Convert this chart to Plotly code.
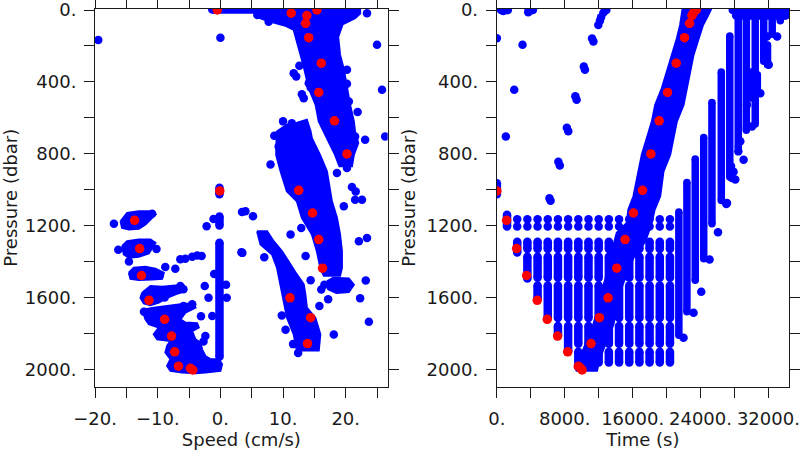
import plotly.graph_objects as go

BLUE = "#0000ff"
RED = "#ff0000"
INK = "#1a1a1a"

# ---------------- shared red subset (same samples in both panels) ----------------
red_pressure = [1007, 1171, 1328, 1478, 1616, 1722, 1815, 1903, 1983, 1995, 2004, 1857, 1713, 1602,
                1437, 1278, 1130, 1004, 801, 617, 459, 296, 154, 74, 31, 18, 0, 0]
red_speed = [-0.1, -13.7, -12.9, -12.6, -11.4, -8.9, -7.8, -7.3, -6.7, -4.8, -4.4, 13.9, 14.4, 11.1,
             16.3, 15.7, 14.7, 12.5, 20.2, 18.2, 15.7, 16.1, 14.1, 13.6, 13.8, 11.3, 15.4, -0.5]
red_time = [0, 1150, 2330, 3510, 4760, 5940, 7160, 8350, 9600, 9900, 10050, 11100, 12080, 13110,
            14130, 15110, 16100, 17160, 18150, 19130, 20110, 21140, 22120, 22710, 22990, 23150, 23380, 23500]

# ---------------- left panel: dense blue clouds (outline of the sample clouds) ----------------
cloud_upper_speed = [5.5, 5.5, 7.5, 10.5, 11.7, 13.3, 14.1, 15.2, 15.7, 17.0, 18.3, 19.0,
                     21.0, 21.3, 22.0, 21.5, 21.3, 20.7, 20.2, 19.7, 19.1, 18.8, 19.5, 21.5, 22.3, 22.3]
cloud_upper_p = [-10, 35, 60, 90, 111, 315, 435, 528, 620, 713, 806, 870,
                 870, 806, 740, 680, 620, 528, 435, 330, 250, 150, 80, 45, 20, -10]

cloud_mid_speed = [10.5, 9.0, 8.9, 9.6, 10.6, 12.2, 13.0, 14.6, 15.4, 15.95, 16.5,
                   19.1, 19.4, 19.4, 19.1, 18.6, 17.8, 17.3, 17.0, 15.9, 14.6, 14.4, 13.8, 12.0]
cloud_mid_p = [640, 676, 806, 898, 1009, 1065, 1157, 1250, 1343, 1435, 1480,
               1480, 1435, 1343, 1250, 1157, 1065, 972, 898, 806, 713, 676, 611, 630]

cloud_branch_speed = [5.85, 6.4, 8.24, 9.04, 9.57, 10.1, 10.63, 11.7, 12.2, 15.7, 15.95, 15.15,
                      13.8, 13.56, 13.3, 12.2, 11.2, 9.84, 8.5, 7.45]
cloud_branch_p = [1231, 1305, 1361, 1435, 1528, 1620, 1713, 1806, 1895, 1895, 1806, 1713,
                  1657, 1583, 1528, 1472, 1416, 1343, 1287, 1231]

cloud_east_speed = [17.0, 18.0, 20.5, 21.3, 20.5, 18.5, 17.2]
cloud_east_p = [1510, 1490, 1495, 1530, 1570, 1575, 1555]

cloud_c1_speed = [-15.95, -14.89, -13.03, -11.43, -10.37, -11.17, -11.97, -13.03, -14.62, -15.69]
cloud_c1_p = [1176, 1129, 1120, 1120, 1139, 1166, 1194, 1218, 1222, 1213]

cloud_c2_speed = [-15.69, -14.89, -13.03, -11.17, -10.37, -10.9, -11.43, -13.03, -14.62, -15.42]
cloud_c2_p = [1314, 1287, 1277, 1277, 1296, 1324, 1355, 1374, 1379, 1361]

cloud_c3_speed = [-14.62, -13.83, -11.97, -10.37, -9.04, -9.31, -10.9, -13.03, -14.36]
cloud_c3_p = [1463, 1435, 1429, 1440, 1463, 1496, 1500, 1503, 1496]

cloud_c4_speed = [-12.5, -11.17, -9.31, -7.18, -5.85, -5.59, -7.18, -8.51, -9.84, -11.17, -12.23, -12.76]
cloud_c4_p = [1574, 1537, 1541, 1533, 1533, 1565, 1583, 1602, 1629, 1644, 1633, 1602]

cloud_low_speed = [-11.97, -10.64, -8.51, -6.65, -4.52, -3.99, -5.59, -6.38, -5.59, -3.73, -3.46, -4.52,
                   -3.99, -3.19, -2.93, -2.40, -1.6, -0.27, 0.26, 0.0, -2.40, -3.99, -6.12, -7.98,
                   -8.51, -7.98, -8.78, -8.51, -7.98, -10.1, -10.64, -9.84, -11.43, -11.97, -12.23]
cloud_low_p = [1666, 1657, 1648, 1639, 1633, 1657, 1685, 1722, 1740, 1744, 1768, 1787,
               1833, 1851, 1889, 1926, 1944, 1944, 1972, 2009, 2018, 2022, 2018, 2009,
               1981, 1944, 1907, 1870, 1842, 1833, 1805, 1768, 1749, 1722, 1694]

# vertical runs of samples near zero speed
speed_run_x = [-0.15, -0.15, -0.15]
speed_run_top = [990, 1150, 1295]
speed_run_bot = [1025, 1200, 1930]
# surface run
speed_row_p = [-3]
speed_row_x0 = [-1.3]
speed_row_x1 = [7.0]

# isolated blue samples, left panel
speed_dots_x = [-19.5, 0.0, 25.0, 25.8, 26.3, 23.4, 5.9, 7.7, 12.6, 11.7, 12.1, 13.0, 13.3, 14.1, 14.4,
                20.2, 20.2, 20.5, 21.9, 10.0, 11.4, 21.5, 23.1, 18.6, 20.2, 20.2, 4.0, 5.2, 3.5, 7.0,
                11.2, 13.6, 12.9, 14.4, 16.1, 15.8, 18.1, 23.2, 23.7, 21.5, 22.6, 19.7, 22.1, 23.4,
                -1.1, -2.2, 3.45, 3.35, -2.5, -1.9, 1.0, -1.3, -2.4, -8.8, -7.2, -6.4, -5.6, -4.5,
                -3.7, -3.0, -7.4, -6.4, -5.9, -5.9, -4.5, -17.0, -10.9,
                8.6, 9.3, 8.0, 16.6, 17.2, 9.8, 10.4, 11.6, 12.4, 17.4, 16.9, 21.0, 21.6, 22.3,
                -16.3, -10.2, -9.7, -8.9, -3.1, -2.7, -1.0, 0.9, -14.6, -12.2]
speed_dots_p = [167, 154, 194, 444, 704, 18, 28, 65, 311, 352, 370, 469, 491, 408, 431,
                333, 411, 509, 568, 620, 630, 704, 722, 907, 824, 880, 1120, 1148, 1352, 1376,
                1250, 1370, 1213, 1505, 1556, 1648, 1806, 1506, 1735, 1056, 1056, 1093, 1287, 1269,
                1163, 1204, 1124, 1348, 1537, 1602, 1602, 1704, 1815, 1430, 1440, 1388, 1385, 1374,
                1366, 1370, 1555, 1537, 1555, 1648, 1638, 1190, 1134,
                700, 760, 860, 1530, 1610, 1700, 1780, 1860, 1910, 1195, 1250, 985, 1010, 1605,
                1335, 1330, 1480, 1600, 1705, 1845, 1470, 1530, 1400, 1680]

# ---------------- right panel ----------------
# ascending band around the red samples (outline)
band_time = [21900, 21600, 21220, 20630, 20040, 19450, 18660, 18270, 17680, 17090, 16690, 16100,
             15500, 15310, 14130, 13340, 12950, 12360, 11960, 11370, 10590, 9800, 9200, 9400,
             11800, 12160, 12950, 13740, 14130, 14520, 15310, 16100, 17500, 18200, 18600, 19250,
             19640, 20430, 20820, 21220, 22000, 22400, 22790, 23180, 23800, 24300, 24900, 25300]
band_p = [-10, 83, 157, 250, 343, 435, 528, 620, 713, 805, 898, 1037,
          1111, 1185, 1240, 1380, 1472, 1565, 1657, 1750, 1843, 1935, 1990, 2008,
          2008, 1935, 1843, 1750, 1657, 1565, 1472, 1380, 1287, 1194, 1111, 1037,
          898, 805, 713, 620, 528, 435, 343, 250, 157, 83, 30, -10]

# regular sampling grid: column times and the paired rows near 1200 dbar
grid_time = [1200, 2400, 3600, 4800, 6000, 7200, 8400, 9600, 10800, 12000, 13200, 14400,
             15600, 16800, 18000, 19200, 20400]
grid_pair_p = [1165, 1205]
grid_low_top = [None, 1290, 1290, 1290, 1290, 1290, 1290, 1290, 1290, 1290, 1290, 1290,
                1290, 1290, 1290, 1290, 1290]
grid_low_bot = [None, 1350, 1495, 1605, 1712, 1810, 1900, 1985, 1985, 1962, 1962, 1962,
                1962, 1962, 1962, 1962, 1962]
gap_levels = [1352, 1512, 1737, 1880]

# other vertical runs (time, top, bottom)
time_run_t = [0, 1200]
time_run_top = [965, 1140]
time_run_bot = [1025, 1205]
# rising staircase of runs after the ascent
stair_t = [21450, 22400, 23380, 24380, 25350, 26450, 27450, 28450, 29400, 30450,
           31450, 32450, 33400, 34100, 30000, 30700, 31900]
stair_top = [1125, 960, 830, 710, 515, 345, 145, 0, 0, 0, 0, 0, 0, 0, 345, 360, 195]
stair_bot = [1810, 1680, 1505, 1385, 1190, 1060, 930, 765, 670, 635, 285, 135, 60, 25, 490, 455, 305]

# horizontal runs at the surface (pressure, start, end)
time_row_p = [0, 0, 0, 30]
time_row_t0 = [500, 3750, 27800, 28200]
time_row_t1 = [1300, 4250, 34400, 34100]

# isolated blue samples, right panel
time_dots_t = [750, 3700, 0, 3030, 2050, 1060, 7250, 7420, 8250, 8420, 9250, 9400, 10250, 10380,
               11220, 11380, 11960, 12150, 12280, 12550, 12900, 6200, 6330, 22000, 23180, 24090,
               25070, 26060, 27040, 27600, 27900, 28100, 28690, 29080, 29480, 29480, 31050, 32040,
               33030, 31840, 30070, 28460, 27710, 27120]
time_dots_p = [5, 13, 157, 194, 444, 704, 845, 865, 655, 675, 480, 500, 315, 333,
               158, 175, 83, 60, 40, 15, 0, 1048, 1062, 1824, 1685, 1569,
               1389, 1237, 1080, 870, 900, 944, 731, 833, 648, 528, 463, 305,
               148, 148, 648, 787, 935, 1074]

# ---------------- axes ----------------
pressure_ticks = [0, 400, 800, 1200, 1600, 2000]
pressure_labels = ["0.", "400.", "800.", "1200.", "1600.", "2000."]
pressure_minor = [200, 600, 1000, 1400, 1800]
speed_ticks = [-20, -10, 0, 10, 20]
speed_labels = ["\u221220.", "\u221210.", "0.", "10.", "20."]
speed_minor = [-15, -5, 5, 15, 25]
time_ticks = [0, 8000, 16000, 24000, 32000]
time_labels = ["0.", "8000.", "16000.", "24000.", "32000."]
time_minor = [4000, 12000, 20000, 28000]
pressure_range = [2097, -7]
speed_range = [-20.02, 26.7]
time_range = [-15, 34430]

DOT = 8.5
RED_DOT = 9.5


def vertical_runs(xs, tops, bots, gaps=(), half=22):
    X, Y = [], []
    for x, a, b in zip(xs, tops, bots):
        if a is None:
            continue
        pieces = []
        start = a
        for g in gaps:
            if start + 30 < g < b - 30:
                pieces.append((start, g - half))
                start = g + half
        pieces.append((start, b))
        for s, e in pieces:
            X += [x, x, None]
            Y += [s, e, None]
    return X, Y


def horizontal_runs(ps, x0s, x1s):
    X, Y = [], []
    for p, a, b in zip(ps, x0s, x1s):
        X += [a, b, None]
        Y += [p, p, None]
    return X, Y


def run_trace(X, Y, xa, ya, w=DOT):
    return go.Scatter(x=X, y=Y, xaxis=xa, yaxis=ya, mode="lines+markers", connectgaps=False,
                      line=dict(color=BLUE, width=w), marker=dict(color=BLUE, size=w),
                      hoverinfo="skip", showlegend=False)


def cloud_trace(xs, ps, xa, ya):
    return go.Scatter(x=list(xs) + [xs[0]], y=list(ps) + [ps[0]], xaxis=xa, yaxis=ya,
                      mode="lines", fill="toself", fillcolor=BLUE,
                      line=dict(color=BLUE, width=2), hoverinfo="skip", showlegend=False)


def dot_trace(xs, ps, color, xa, ya, size=DOT):
    return go.Scatter(x=xs, y=ps, xaxis=xa, yaxis=ya, mode="markers",
                      marker=dict(color=color, size=size, line=dict(width=0)),
                      hoverinfo="skip", showlegend=False)


fig = go.Figure()

# left panel
for xs, ps in [(cloud_upper_speed, cloud_upper_p), (cloud_mid_speed, cloud_mid_p),
               (cloud_branch_speed, cloud_branch_p), (cloud_east_speed, cloud_east_p),
               (cloud_c1_speed, cloud_c1_p), (cloud_c2_speed, cloud_c2_p),
               (cloud_c3_speed, cloud_c3_p), (cloud_c4_speed, cloud_c4_p),
               (cloud_low_speed, cloud_low_p)]:
    fig.add_trace(cloud_trace(xs, ps, "x", "y"))
X, Y = vertical_runs(speed_run_x, speed_run_top, speed_run_bot)
fig.add_trace(run_trace(X, Y, "x", "y"))
X, Y = horizontal_runs(speed_row_p, speed_row_x0, speed_row_x1)
fig.add_trace(run_trace(X, Y, "x", "y"))
fig.add_trace(dot_trace(speed_dots_x, speed_dots_p, BLUE, "x", "y"))
fig.add_trace(dot_trace(red_speed, red_pressure, RED, "x", "y", RED_DOT))

# right panel
fig.add_trace(cloud_trace(band_time, band_p, "x2", "y2"))
X, Y = vertical_runs(grid_time, grid_low_top, grid_low_bot, gap_levels)
fig.add_trace(run_trace(X, Y, "x2", "y2"))
X, Y = vertical_runs(time_run_t, time_run_top, time_run_bot)
fig.add_trace(run_trace(X, Y, "x2", "y2"))
X, Y = vertical_runs(stair_t, stair_top, stair_bot)
fig.add_trace(run_trace(X, Y, "x2", "y2", 7.5))
X, Y = horizontal_runs(time_row_p, time_row_t0, time_row_t1)
fig.add_trace(run_trace(X, Y, "x2", "y2"))
pair_t = [t for t in grid_time[1:] for _ in grid_pair_p]
pair_p = [p for _ in grid_time[1:] for p in grid_pair_p]
fig.add_trace(dot_trace(pair_t, pair_p, BLUE, "x2", "y2"))
fig.add_trace(dot_trace(time_dots_t, time_dots_p, BLUE, "x2", "y2"))
fig.add_trace(dot_trace(red_time, red_pressure, RED, "x2", "y2", RED_DOT))

font = dict(family="DejaVu Sans", size=18, color=INK)


def xaxis_cfg(domain, rng, vals, text, minor, title):
    return dict(domain=domain, range=rng, tickmode="array", tickvals=vals, ticktext=text,
                ticks="outside", ticklen=10, tickwidth=1, tickcolor=INK,
                minor=dict(tickmode="array", tickvals=minor, ticks="outside", ticklen=10,
                           tickwidth=1, tickcolor=INK),
                showline=True, linecolor=INK, linewidth=1, mirror="ticks",
                showgrid=False, zeroline=False, automargin=False, tickfont=font,
                ticklabelstandoff=6, ticklabeloverflow="allow",
                title=dict(text=title, font=font, standoff=3))


# 0 dbar sits at 10 px from the top, 2097 dbar at 386.7 px
Y_DOMAIN = [1 - 386.7 / 450, 1 - (10 - 7 * 0.17963) / 450]


def yaxis_cfg(anchor):
    return dict(domain=Y_DOMAIN, range=pressure_range, anchor=anchor,
                tickmode="array", tickvals=pressure_ticks, ticktext=pressure_labels,
                ticks="outside", ticklen=10, tickwidth=1, tickcolor=INK,
                minor=dict(tickmode="array", tickvals=pressure_minor, ticks="outside",
                           ticklen=10, tickwidth=1, tickcolor=INK),
                showline=True, linecolor=INK, linewidth=1, mirror="ticks",
                showgrid=False, zeroline=False, automargin=False, tickfont=font,
                ticklabelstandoff=4, ticklabeloverflow="allow",
                title=dict(text="Pressure (dbar)", font=font, standoff=6))


fig.update_layout(
    width=800, height=450, margin=dict(l=0, r=0, t=0, b=0),
    paper_bgcolor="white", plot_bgcolor="white", showlegend=False,
    xaxis=dict(**xaxis_cfg([0.11875, 0.4846], speed_range, speed_ticks, speed_labels,
                           speed_minor, "Speed (cm/s)"), anchor="y"),
    yaxis=yaxis_cfg("x"),
    xaxis2=dict(**xaxis_cfg([0.6209, 0.98625], time_range, time_ticks, time_labels,
                            time_minor, "Time (s)"), anchor="y2"),
    yaxis2=yaxis_cfg("x2"),
)

fig.write_html("out.html", config={"displayModeBar": False},
               post_script="document.body.style.margin='0px';")
